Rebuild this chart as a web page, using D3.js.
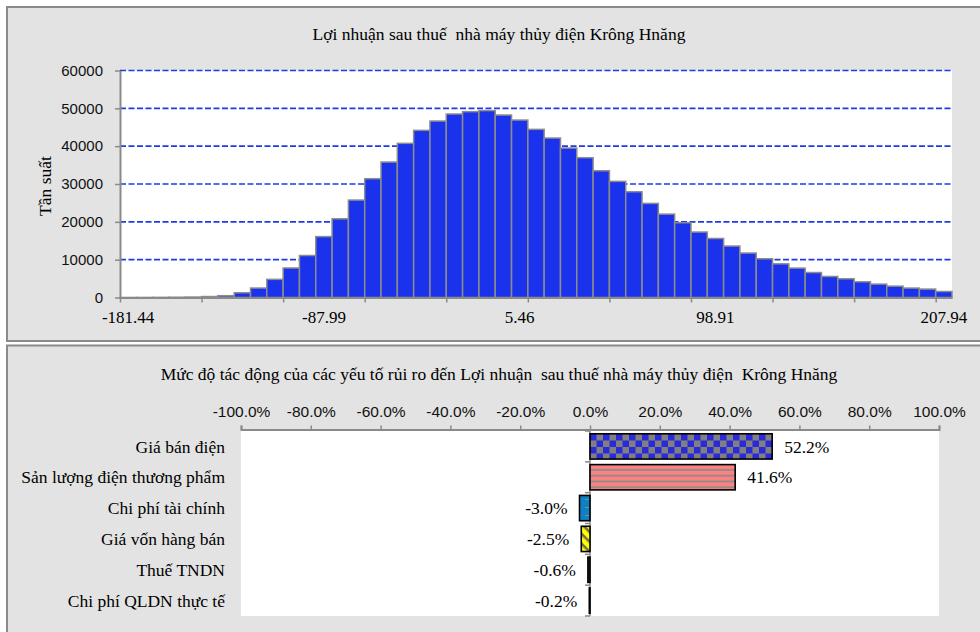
<!DOCTYPE html>
<html><head><meta charset="utf-8">
<script src="https://cdn.jsdelivr.net/npm/d3@7"></script>
<style>
html,body{margin:0;padding:0;background:#fff;}
svg{display:block;}
</style></head>
<body>
<svg id="chart" width="980" height="632"></svg>
<script>
// ---------- DATA ----------
const histTitle = "Lợi nhuận sau thuế  nhà máy thủy điện Krông Hnăng";
const histYLabel = "Tần suất";
const freq = [10, 20, 40, 70, 120, 250, 480, 1250, 2500, 4800, 7800, 11100, 16100, 20800, 25750, 31400,
  35800, 40750, 44180, 46640, 48500, 49120, 49400, 48230, 46900, 44440, 42150, 39500, 36950, 33500,
  30700, 27950, 24870, 22040, 19760, 17300, 15600, 13600, 11750, 10240, 8900, 7770, 6600, 5560,
  4950, 4150, 3540, 3000, 2490, 2220, 1590];
const binTickLabels = ["-181.44", "-87.99", "5.46", "98.91", "207.94"];
const binTickLabelIndex = [0, 12, 24, 36, 50];
const binTickMarks = [0, 5, 10, 15, 20, 25, 30, 35, 40, 45, 50];
const freqTicks = [0, 10000, 20000, 30000, 40000, 50000, 60000];

const sensTitle = "Mức độ tác động của các yếu tố rủi ro đến Lợi nhuận  sau thuế nhà máy thủy điện  Krông Hnăng";
const factors = ["Giá bán điện", "Sản lượng điện thương phẩm", "Chi phí tài chính", "Giá vốn hàng bán", "Thuế TNDN", "Chi phí QLDN thực tế"];
const impact = [0.522, 0.416, -0.030, -0.025, -0.006, -0.002];
const pctTicks = [-1, -0.8, -0.6, -0.4, -0.2, 0, 0.2, 0.4, 0.6, 0.8, 1];

// ---------- STYLE ----------
const SERIF = "'Liberation Serif','Times New Roman',serif";
const SANS = "'Liberation Sans',Arial,sans-serif";
const panelFill = "#e3e3e3", panelStroke = "#8a8a8a", axisGray = "#8a8a8a";
const pct = d => d3.format(".1%")(d).replace("\u2212", "-");

const svg = d3.select("#chart");

// patterns
const defs = svg.append("defs");
const pChecker = defs.append("pattern").attr("id","pChecker").attr("patternUnits","userSpaceOnUse")
  .attr("width",13).attr("height",13).attr("x",590).attr("y",434);
pChecker.append("rect").attr("width",13).attr("height",13).attr("fill","#808080");
pChecker.append("rect").attr("width",6.5).attr("height",6.5).attr("fill","#2a2ad8");
pChecker.append("rect").attr("x",6.5).attr("y",6.5).attr("width",6.5).attr("height",6.5).attr("fill","#2a2ad8");

const pStripe = defs.append("pattern").attr("id","pStripe").attr("patternUnits","userSpaceOnUse")
  .attr("width",10).attr("height",5.8).attr("y",465);
pStripe.append("rect").attr("width",10).attr("height",5.8).attr("fill","#ff8080");
pStripe.append("rect").attr("y",4).attr("width",10).attr("height",1.8).attr("fill","#8c8c8c");

const pBlue = defs.append("pattern").attr("id","pBlue").attr("patternUnits","userSpaceOnUse")
  .attr("width",8).attr("height",8);
pBlue.append("rect").attr("width",8).attr("height",8).attr("fill","#0d80c6");
pBlue.append("rect").attr("x",1).attr("y",3).attr("width",4).attr("height",1).attr("fill","#8a8a8a");

const pYellow = defs.append("pattern").attr("id","pYellow").attr("patternUnits","userSpaceOnUse")
  .attr("width",7).attr("height",7).attr("patternTransform","rotate(45)");
pYellow.append("rect").attr("width",7).attr("height",7).attr("fill","#ffff00");
pYellow.append("rect").attr("width",7).attr("height",2.5).attr("fill","#6e6e4a");

const barFills = ["url(#pChecker)", "url(#pStripe)", "url(#pBlue)", "url(#pYellow)", "#333", "#333"];

// ---------- PANELS ----------
svg.append("rect").attr("x",7).attr("y",7).attr("width",1000).attr("height",334)
  .attr("fill",panelFill).attr("stroke",panelStroke).attr("stroke-width",2);
svg.append("rect").attr("x",7).attr("y",345.5).attr("width",1000).attr("height",320)
  .attr("fill",panelFill).attr("stroke",panelStroke).attr("stroke-width",2);

// ---------- HISTOGRAM ----------
const hx0 = 120, hx1 = 952, hy0 = 70.5, hy1 = 297.5;
const xb = d3.scaleBand().domain(freq.map((d,i)=>i)).range([hx0,hx1]).paddingInner(0).paddingOuter(0);
const xLin = d3.scaleLinear().domain([0, freq.length]).range([hx0,hx1]);
const yH = d3.scaleLinear().domain([0,60000]).range([hy1,hy0]);

svg.append("text").attr("x",499).attr("y",40).attr("text-anchor","middle")
  .attr("font-family",SERIF).attr("font-size",17.5).attr("xml:space","preserve").text(histTitle);

svg.append("rect").attr("x",hx0).attr("y",hy0).attr("width",hx1-hx0).attr("height",hy1-hy0).attr("fill","#fff");

// grid
svg.append("g").selectAll("line").data(freqTicks.filter(d=>d>0)).join("line")
  .attr("x1",hx0).attr("x2",hx1).attr("y1",d=>yH(d)).attr("y2",d=>yH(d))
  .attr("stroke","#1f3be6").attr("stroke-width",1.6).attr("stroke-dasharray","6,2.5");

// bars
svg.append("g").selectAll("rect").data(freq).join("rect")
  .attr("x",(d,i)=>xb(i)).attr("width",xb.bandwidth())
  .attr("y",d=>yH(d)).attr("height",d=>yH(0)-yH(d))
  .attr("fill","#1b32ec").attr("stroke","#8c8c8c").attr("stroke-width",1.5);

// y axis
const gy = svg.append("g").attr("transform",`translate(${hx0},0)`)
  .call(d3.axisLeft(yH).tickValues(freqTicks).tickFormat(d3.format("d")).tickSize(5).tickSizeOuter(0).tickPadding(12));
gy.selectAll("text").attr("font-family",SANS).attr("font-size",15).attr("fill","#111");
gy.selectAll("line").attr("stroke",axisGray).attr("stroke-width",1.5);
gy.select(".domain").attr("stroke",axisGray).attr("stroke-width",2);

// x axis ticks
const gx = svg.append("g").attr("transform",`translate(0,${hy1})`)
  .call(d3.axisBottom(xLin).tickValues(binTickMarks).tickFormat("").tickSize(5).tickSizeOuter(0));
gx.selectAll("line").attr("stroke",axisGray).attr("stroke-width",1.5);
gx.select(".domain").attr("stroke",axisGray).attr("stroke-width",2);
// x axis labels
const gxl = svg.append("g").attr("transform",`translate(0,${hy1})`)
  .call(d3.axisBottom(xb).tickValues(binTickLabelIndex)
    .tickFormat(i => binTickLabels[binTickLabelIndex.indexOf(i)]).tickSize(0).tickPadding(13));
gxl.select(".domain").remove();
gxl.selectAll("text").attr("font-family",SERIF).attr("font-size",17).attr("fill","#000");

svg.append("text").attr("transform","translate(51,186) rotate(-90)").attr("text-anchor","middle")
  .attr("font-family",SERIF).attr("font-size",17.5).text(histYLabel);

// ---------- SENSITIVITY ----------
const bx0 = 241, bx1 = 939, by0 = 431, by1 = 616;
const xS = d3.scaleLinear().domain([-1,1]).range([bx0,bx1]);
const yS = d3.scaleBand().domain(factors).range([by0,by1]).paddingInner(0.18).paddingOuter(0.09);

svg.append("text").attr("x",499).attr("y",380).attr("text-anchor","middle")
  .attr("font-family",SERIF).attr("font-size",17.5).attr("xml:space","preserve").text(sensTitle);

svg.append("rect").attr("x",bx0).attr("y",by0).attr("width",bx1-bx0).attr("height",by1-by0).attr("fill","#fff");

const gt = svg.append("g").attr("transform",`translate(0,${by0-1.5})`)
  .call(d3.axisTop(xS).tickValues(pctTicks).tickFormat(pct).tickSize(4).tickSizeOuter(4).tickPadding(9));
gt.selectAll("text").attr("font-family",SANS).attr("font-size",15.5).attr("fill","#111");
gt.selectAll("line").attr("stroke",axisGray).attr("stroke-width",1.5);
gt.select(".domain").attr("stroke",axisGray).attr("stroke-width",2);

// category axis at zero
const boundaries = factors.map(f => yS(f) - yS.step()*0.09).concat([by1]);
const gc = svg.append("g");
gc.append("line").attr("x1",xS(0)).attr("x2",xS(0)).attr("y1",by0).attr("y2",by1)
  .attr("stroke",axisGray).attr("stroke-width",1.5);
gc.selectAll("line.tk").data(boundaries).join("line").attr("class","tk")
  .attr("x1",xS(0)-5).attr("x2",xS(0)).attr("y1",d=>d).attr("y2",d=>d)
  .attr("stroke",axisGray).attr("stroke-width",1.5);

// category labels
svg.append("g").selectAll("text").data(factors).join("text")
  .attr("x",225).attr("y",d=>yS(d)+yS.bandwidth()/2).attr("dy","0.35em")
  .attr("text-anchor","end").attr("font-family",SERIF).attr("font-size",17.5).text(d=>d);

// bars
svg.append("g").selectAll("rect").data(impact).join("rect")
  .attr("x",d=>Math.min(xS(0),xS(d))).attr("width",d=>Math.abs(xS(d)-xS(0)))
  .attr("y",(d,i)=>yS(factors[i])).attr("height",yS.bandwidth())
  .attr("fill",(d,i)=>barFills[i]).attr("stroke","#000").attr("stroke-width",1.6);

// value labels
svg.append("g").selectAll("text").data(impact).join("text")
  .attr("x",d=> d>=0 ? xS(d)+12 : xS(d)-12)
  .attr("y",(d,i)=>yS(factors[i])+yS.bandwidth()/2).attr("dy","0.35em")
  .attr("text-anchor",d=> d>=0 ? "start" : "end")
  .attr("font-family",SERIF).attr("font-size",17.5).text(d=>pct(d));
</script>
</body></html>
